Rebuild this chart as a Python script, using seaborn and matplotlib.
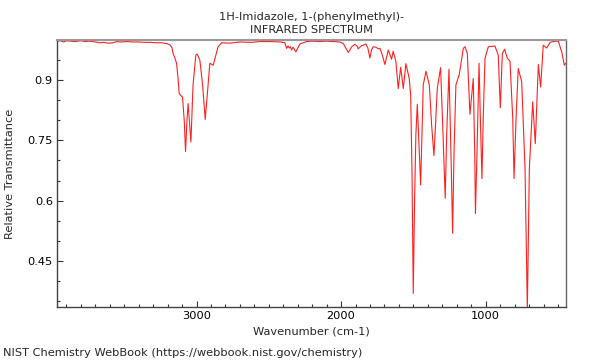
import numpy as np
import pandas as pd
import seaborn as sns
import matplotlib.pyplot as plt
from matplotlib.ticker import FixedLocator, MultipleLocator, FormatStrFormatter

# Spectrum (wavenumber in cm-1, relative transmittance)
wavenumber = [
    3965, 3940, 3920, 3900, 3870, 3840, 3800, 3770, 3740, 3700, 3670, 3640, 3610, 3580,
    3550, 3520, 3480, 3440, 3400, 3360, 3320, 3280, 3240, 3206, 3185, 3171, 3162, 3150,
    3138, 3128, 3120, 3110, 3097, 3085, 3076, 3066, 3058, 3048, 3039, 3024, 3005, 2996,
    2977, 2958, 2940, 2920, 2908, 2885, 2851, 2827, 2770, 2700, 2620, 2560, 2490, 2420,
    2389, 2377, 2368, 2359, 2350, 2343, 2332, 2313, 2300, 2285, 2239, 2200, 2150, 2100,
    2050, 2008, 1985, 1965, 1951, 1940, 1927, 1905, 1890, 1882, 1870, 1858, 1840, 1829,
    1815, 1801, 1790, 1778, 1760, 1743, 1731, 1715, 1697, 1674, 1651, 1640, 1621, 1605,
    1588, 1570, 1552, 1529, 1519, 1510, 1501, 1492, 1483, 1473, 1464, 1450, 1441, 1432,
    1413, 1390, 1374, 1358, 1346, 1335, 1312, 1295, 1280, 1270, 1254, 1238, 1229, 1219,
    1206, 1183, 1155, 1143, 1127, 1109, 1086, 1076, 1071, 1060, 1046, 1037, 1026, 1017,
    1005, 982, 936, 913, 899, 885, 869, 851, 832, 813, 804, 790, 775, 751,
    728, 712, 698, 675, 657, 636, 620, 602, 578, 555, 520, 498, 474, 456,
    447,
]
transmittance = [
    0.997, 0.998, 0.995, 0.998, 0.997, 0.996, 0.998, 0.996, 0.997, 0.995, 0.993, 0.994, 0.992, 0.993,
    0.996, 0.995, 0.996, 0.995, 0.995, 0.994, 0.994, 0.993, 0.993, 0.991, 0.988, 0.982, 0.966, 0.955,
    0.942, 0.905, 0.867, 0.862, 0.858, 0.800, 0.722, 0.800, 0.842, 0.790, 0.746, 0.888, 0.962, 0.965,
    0.950, 0.888, 0.802, 0.888, 0.942, 0.937, 0.983, 0.993, 0.992, 0.995, 0.994, 0.996, 0.996, 0.995,
    0.993, 0.979, 0.985, 0.980, 0.983, 0.975, 0.982, 0.970, 0.980, 0.990, 0.996, 0.997, 0.996, 0.997,
    0.996, 0.995, 0.991, 0.978, 0.969, 0.975, 0.983, 0.989, 0.985, 0.978, 0.982, 0.986, 0.988, 0.990,
    0.980, 0.955, 0.975, 0.983, 0.982, 0.978, 0.979, 0.962, 0.939, 0.975, 0.952, 0.972, 0.946, 0.879,
    0.932, 0.879, 0.941, 0.904, 0.863, 0.681, 0.369, 0.597, 0.763, 0.840, 0.763, 0.639, 0.763, 0.888,
    0.922, 0.888, 0.788, 0.712, 0.796, 0.879, 0.931, 0.763, 0.606, 0.763, 0.927, 0.681, 0.519, 0.722,
    0.888, 0.914, 0.979, 0.983, 0.966, 0.815, 0.904, 0.722, 0.568, 0.722, 0.942, 0.805, 0.655, 0.805,
    0.954, 0.983, 0.985, 0.962, 0.831, 0.966, 0.977, 0.955, 0.947, 0.805, 0.655, 0.805, 0.929, 0.896,
    0.680, 0.330, 0.680, 0.846, 0.742, 0.939, 0.883, 0.987, 0.980, 0.994, 0.997, 0.997, 0.970, 0.937,
    0.942,
]

title_lines = ["1H-Imidazole, 1-(phenylmethyl)-", "INFRARED SPECTRUM"]
y_major = [0.45, 0.6, 0.75, 0.9]
x_major = [3000, 2000, 1000]

df = pd.DataFrame({"Wavenumber": wavenumber, "Transmittance": transmittance})

sns.set_theme(style="ticks")
plt.rcParams['font.family'] = ['DejaVu Sans']

fig = plt.figure(figsize=(6, 3.6), dpi=100)
ax = fig.add_axes([0.095, 0.147, 0.848, 0.742])

sns.lineplot(data=df, x="Wavenumber", y="Transmittance", ax=ax,
             color="#ff2020", linewidth=0.8, estimator=None, sort=True)

ax.set_xlim(3965, 446)
ax.set_ylim(0.335, 1.0)

ax.xaxis.set_major_locator(FixedLocator(x_major))
ax.xaxis.set_minor_locator(MultipleLocator(100))
ax.yaxis.set_major_locator(FixedLocator(y_major))
ax.yaxis.set_minor_locator(MultipleLocator(0.05))
ax.yaxis.set_major_formatter(FormatStrFormatter('%g'))

ax.tick_params(which='both', direction='in', top=False, right=False,
               labelsize=8.2, colors='#333333', labelcolor='black')
ax.tick_params(which='major', length=4, width=0.8, pad=3)
ax.tick_params(which='minor', length=2, width=0.8)

for side in ['left', 'bottom']:
    ax.spines[side].set_color('#444444')
    ax.spines[side].set_linewidth(1.0)
ax.spines['right'].set_color('#666666')
ax.spines['right'].set_linewidth(1.0)
ax.spines['top'].set_color('#999999')
ax.spines['top'].set_linewidth(1.5)

ax.set_title("\n".join(title_lines), fontsize=8.2, pad=5, linespacing=1.4)
ax.set_xlabel("Wavenumber (cm-1)", fontsize=8.2, labelpad=4)
ax.set_ylabel("Relative Transmittance", fontsize=8.2, labelpad=9)

fig.text(0.005, 0.005, "NIST Chemistry WebBook (https://webbook.nist.gov/chemistry)",
         fontsize=8.2, ha='left', va='bottom')

fig.savefig("out.png", dpi=100)
plt.close(fig)
